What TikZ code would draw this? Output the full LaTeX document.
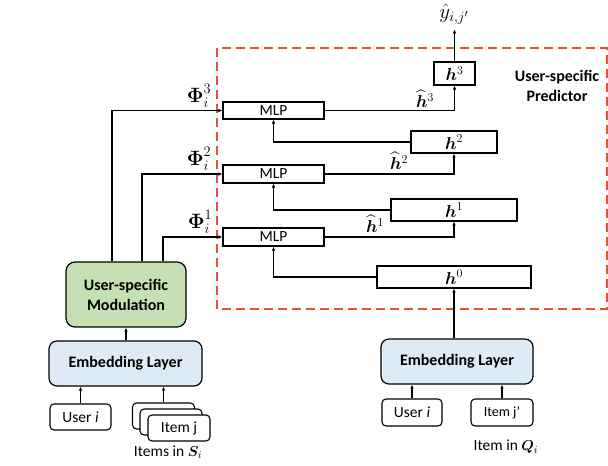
\documentclass[tikz,border=0pt]{standalone}
\usepackage{fontspec}
\setmainfont{Carlito}
\usepackage{amsmath,bm}
\usetikzlibrary{arrows.meta}
\definecolor{dashred}{HTML}{E8502F}
\definecolor{modgreen}{HTML}{C5E0B4}
\definecolor{embblue}{HTML}{DEEBF7}
\begin{document}
\begin{tikzpicture}[x=1pt,y=-1pt,
  box/.style={draw,line width=1.1pt,inner sep=0pt,font=\fontsize{15.5}{16}\selectfont},
  hbox/.style={box,font=\fontsize{18}{18}\selectfont},
  rbox/.style={draw,line width=1.1pt,inner sep=0pt,rounded corners=4pt,fill=white,font=\fontsize{15.5}{17}\selectfont},
  bigbox/.style={draw,line width=1.2pt,inner sep=0pt,rounded corners=9pt,align=center,font=\fontsize{16}{20}\selectfont\bfseries},
  arr/.style={line width=1.1pt,-{Latex[length=4pt,width=3.5pt]}},
  lbl/.style={inner sep=0pt,font=\fontsize{20}{20}\selectfont},
  hlbl/.style={inner sep=0pt,font=\fontsize{18}{18}\selectfont},
  tlbl/.style={inner sep=0pt,font=\fontsize{15.5}{16}\selectfont}]
\useasboundingbox[fill=white] (0,0) rectangle (608,466);
% dashed predictor region
\draw[dashred,line width=1.6pt,dash pattern=on 9pt off 5pt] (217,48) rectangle (607,309);
\node[inner sep=0pt,align=center,font=\fontsize{16}{20}\selectfont\bfseries] (pred) at (557,86) {User-specific\\Predictor};
% MLPs
\node[box,minimum width=101pt,minimum height=17pt] (mlp3) at (273.5,110.5) {MLP};
\node[box,minimum width=101pt,minimum height=18pt] (mlp2) at (273.5,174) {MLP};
\node[box,minimum width=101pt,minimum height=18pt] (mlp1) at (273.5,237) {MLP};
% h boxes
\node[hbox,minimum width=41pt,minimum height=23pt] (h3) at (454.5,73.5) {$\bm{h}^{3}$};
\node[hbox,minimum width=86pt,minimum height=22pt] (h2) at (454,142) {$\bm{h}^{2}$};
\node[hbox,minimum width=126pt,minimum height=22pt] (h1) at (454,210) {$\bm{h}^{1}$};
\node[hbox,minimum width=154pt,minimum height=22pt] (h0) at (454,277) {$\bm{h}^{0}$};
\node[lbl,font=\fontsize{22}{22}\selectfont] (yhat) at (454,14) {$\hat{y}_{i,j'}$};
% hat labels
\node[hlbl] (hh3) at (425,99) {$\widehat{\bm{h}}^{3}$};
\node[hlbl] (hh2) at (399,161) {$\widehat{\bm{h}}^{2}$};
\node[hlbl] (hh1) at (375,224) {$\widehat{\bm{h}}^{1}$};
% Phi labels
\node[lbl] (phi3) at (199,96) {$\bm{\Phi}_{i}^{3}$};
\node[lbl] (phi2) at (199,159) {$\bm{\Phi}_{i}^{2}$};
\node[lbl] (phi1) at (200,222) {$\bm{\Phi}_{i}^{1}$};
% left column
\node[bigbox,fill=modgreen,minimum width=120pt,minimum height=65pt] (mod) at (126,294.5) {User-specific\\Modulation};
\node[bigbox,fill=embblue,rounded corners=8pt,minimum width=153pt,minimum height=45pt] (embL) at (125.5,363.5) {Embedding Layer};
\node[rbox,minimum width=61pt,minimum height=26pt] (userL) at (80.5,417) {User $\mathit{i}$};
\node[rbox,minimum width=62pt,minimum height=26pt] (itemC) at (163.5,416) {};
\node[rbox,minimum width=62pt,minimum height=26pt] (itemB) at (171,422) {};
\node[rbox,minimum width=62pt,minimum height=26pt] (itemA) at (179,428) {Item j};
\node[tlbl] (itemsS) at (168,452) {Items in $\bm{S}_{i}$};
% right column
\node[bigbox,fill=embblue,rounded corners=8pt,minimum width=152pt,minimum height=45pt] (embR) at (457,361.5) {Embedding Layer};
\node[rbox,minimum width=60pt,minimum height=27pt] (userR) at (412,412.5) {User $\mathit{i}$};
\node[rbox,minimum width=62pt,minimum height=27pt,font=\fontsize{14}{16}\selectfont] (itemR) at (502,412.5) {Item j’};
\node[tlbl] (itemsQ) at (506,447) {Item in $\bm{Q}_{i}$};
% connectors predictor
\draw[arr] (mlp3.east) -| (h3.south);
\draw[arr] (mlp2.east) -| (h2.south);
\draw[arr] (mlp1.east) -| (h1.south);
\draw[arr] (h3.north) -- ([yshift=-5pt]h3.north |- yhat.south);
\draw[arr] (h2.west) -| (mlp3.south);
\draw[arr] (h1.west) -| (mlp2.south);
\draw[arr] (h0.west) -| (mlp1.south);
% modulation to MLPs
\draw[arr] ([xshift=-14pt]mod.north) |- (mlp3.west);
\draw[arr] ([xshift=16pt]mod.north) |- (mlp2.west);
\draw[arr] ([xshift=37pt]mod.north) |- (mlp1.west);
% left inputs
\draw[arr] (mod.south |- embL.north) -- (mod.south);
\draw[arr] (userL.north) -- (userL.north |- embL.south);
\draw[arr] (itemC.north) -- (itemC.north |- embL.south);
% right inputs
\draw[arr] (embR.north -| h0.south) -- (h0.south);
\draw[arr] (userR.north) -- (userR.north |- embR.south);
\draw[arr] (itemR.north) -- (itemR.north |- embR.south);
\end{tikzpicture}
\end{document}
